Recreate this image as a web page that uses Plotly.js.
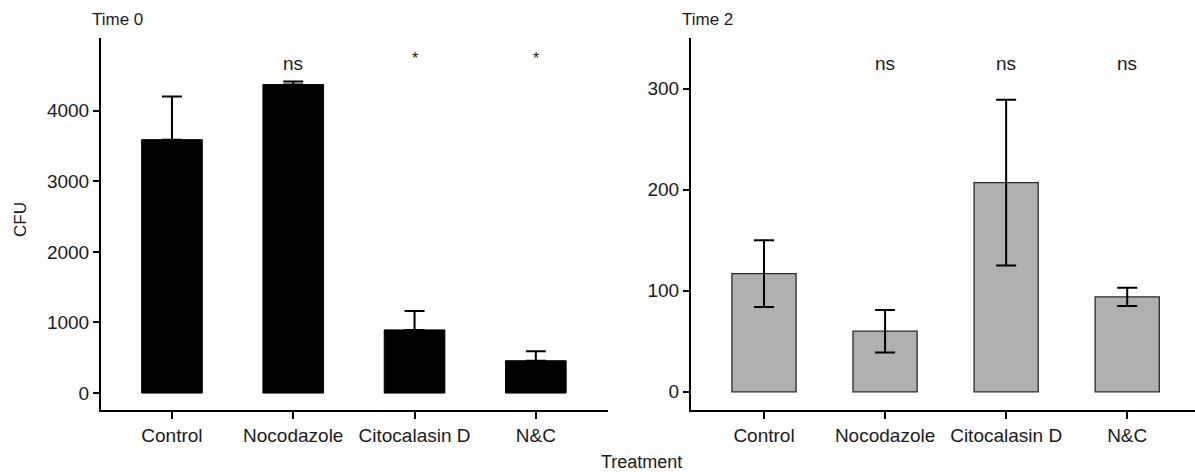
<!DOCTYPE html>
<html>
<head>
<meta charset="utf-8">
<script src="https://cdn.plot.ly/plotly-3.0.1.min.js"></script>
<style>html,body{margin:0;padding:0;background:#fff;}#chart{width:1195px;height:472px;}</style>
</head>
<body>
<div id="chart"></div>
<script>
// Data
const categories = ["Control", "Nocodazole", "Citocalasin D", "N&C"];
const time0Values = [3590, 4370, 895, 458];
const time0ErrPlus = [610, 42, 268, 133];
const time2Values = [117, 60, 207, 94];
const time2Err = [33, 21, 82, 9];
const time0Labels = ["", "ns", "*", "*"];
const time2Labels = ["", "ns", "ns", "ns"];
const time0Ticks = [0, 1000, 2000, 3000, 4000];
const time2Ticks = [0, 100, 200, 300];

const xIdx = categories.map((c, i) => i);
const FONT = "Liberation Sans, Arial, sans-serif";
const TXT = "#1a1a1a";

const traces = [
  {
    type: "bar", x: xIdx, y: time0Values, xaxis: "x", yaxis: "y",
    width: 0.5,
    marker: {color: "#000000", line: {color: "#000000", width: 1}},
    error_y: {type: "data", symmetric: false, array: time0ErrPlus,
      arrayminus: time0Values.map(() => 0), color: "#000000", thickness: 2, width: 10},
    hoverinfo: "skip"
  },
  {
    type: "bar", x: xIdx, y: time2Values, xaxis: "x2", yaxis: "y2",
    width: 0.53,
    marker: {color: "#b0b0b0", line: {color: "#2a2a2a", width: 1.3}},
    error_y: {type: "data", array: time2Err, color: "#000000", thickness: 2, width: 10},
    hoverinfo: "skip"
  }
];

const W = 1195, T = 38, B = 410;
const py = (ypx) => (B - ypx) / (B - T);

const annotations = [];
time0Labels.forEach((t, i) => {
  if (!t) return;
  annotations.push({xref: "x", yref: "y", x: i, y: t === "*" ? 4740 : 4670, text: t,
    showarrow: false, font: {family: FONT, size: t === "*" ? 16 : 19, color: TXT}});
});
time2Labels.forEach((t, i) => {
  if (!t) return;
  annotations.push({xref: "x2", yref: "y2", x: i, y: 325, text: t,
    showarrow: false, font: {family: FONT, size: 19, color: TXT}});
});
annotations.push(
  {xref: "paper", yref: "paper", x: 90 / W, y: py(19), xanchor: "left", yanchor: "middle",
   text: "Time 0", showarrow: false, font: {family: FONT, size: 17, color: TXT}},
  {xref: "paper", yref: "paper", x: 680 / W, y: py(19), xanchor: "left", yanchor: "middle",
   text: "Time 2", showarrow: false, font: {family: FONT, size: 17, color: TXT}},
  {xref: "paper", yref: "paper", x: 20 / W, y: py(220), xanchor: "center", yanchor: "middle",
   text: "CFU", textangle: -90, showarrow: false, font: {family: FONT, size: 17, color: TXT}},
  {xref: "paper", yref: "paper", x: 641 / W, y: py(462), xanchor: "center", yanchor: "middle",
   text: "Treatment", showarrow: false, font: {family: FONT, size: 18, color: TXT}}
);

const xCommon = {
  tickmode: "array", tickvals: xIdx, ticktext: categories,
  showline: true, linecolor: "#000", linewidth: 2,
  ticks: "outside", ticklen: 7, tickwidth: 2, tickcolor: "#000",
  showgrid: false, zeroline: false,
  tickfont: {family: FONT, size: 19, color: TXT}, fixedrange: true
};
const yCommon = {
  showline: true, linecolor: "#000", linewidth: 2,
  ticks: "outside", ticklen: 6, tickwidth: 2, tickcolor: "#000",
  showgrid: false, zeroline: false, tickformat: "d",
  tickfont: {family: FONT, size: 19, color: TXT}, fixedrange: true
};

const layout = {
  width: 1195, height: 472,
  margin: {l: 0, r: 0, t: T, b: 472 - B, pad: 0},
  paper_bgcolor: "#ffffff", plot_bgcolor: "#ffffff",
  showlegend: false,
  xaxis: Object.assign({}, xCommon, {domain: [101 / W, 608 / W], range: [-0.585, 3.595], anchor: "y"}),
  yaxis: Object.assign({}, yCommon, {domain: [0, 1], range: [-240, 5030], tickvals: time0Ticks, anchor: "x"}),
  xaxis2: Object.assign({}, xCommon, {domain: [691 / W, 1], range: [-0.603, 3.56], anchor: "y2"}),
  yaxis2: Object.assign({}, yCommon, {domain: [0, 1], range: [-18, 350], tickvals: time2Ticks, anchor: "x2"}),
  annotations: annotations
};

Plotly.newPlot("chart", traces, layout, {displayModeBar: false, staticPlot: true});
</script>
</body>
</html>
